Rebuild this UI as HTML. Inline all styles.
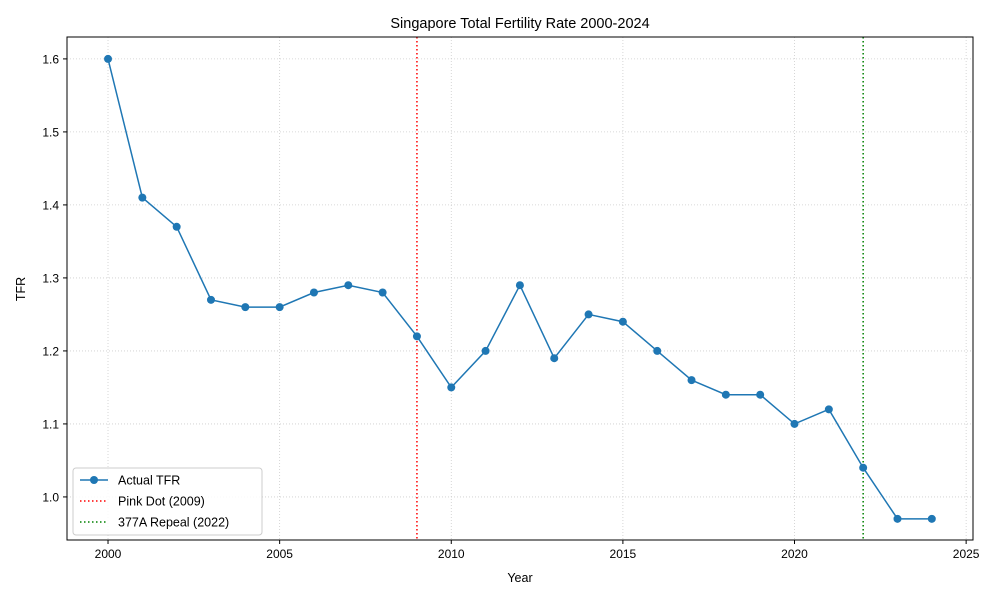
<!DOCTYPE html>
<html><head><meta charset="utf-8"><style>
body{margin:0;background:#fff;font-family:"Liberation Sans","DejaVu Sans",sans-serif;}
</style></head><body>
<svg id="chart" width="1000" height="600" xmlns="http://www.w3.org/2000/svg">
<rect width="1000" height="600" fill="#fff"/>
<g id="grid"></g>
<g id="axes"></g>
<g id="marks"></g>
<rect x="67" y="37" width="906" height="503" fill="none" stroke="#000" stroke-width="1"/>
<text x="520" y="28" text-anchor="middle" font-size="14.5">Singapore Total Fertility Rate 2000-2024</text>
<text x="520" y="582" text-anchor="middle" font-size="12.5">Year</text>
<text x="25" y="289" text-anchor="middle" font-size="12.5" transform="rotate(-90 25 289)">TFR</text>
<g>
<rect x="73" y="468" width="189" height="67" rx="3" fill="#fff" fill-opacity="0.85" stroke="#ccc"/>
<g><line x1="80" y1="480" x2="108" y2="480" stroke="#1f77b4" stroke-width="1.5"/><circle cx="94" cy="480" r="4" fill="#1f77b4"/><text x="118" y="484.5" font-size="12.5">Actual TFR</text></g>
<g><line x1="80" y1="501" x2="108" y2="501" stroke="red" stroke-width="1.5" stroke-dasharray="1.5,2.5"/><text x="118" y="505.5" font-size="12.5">Pink Dot (2009)</text></g>
<g><line x1="80" y1="522" x2="108" y2="522" stroke="green" stroke-width="1.5" stroke-dasharray="1.5,2.5"/><text x="118" y="526.5" font-size="12.5">377A Repeal (2022)</text></g>
</g>
</svg>
<script>
const years=[2000,2001,2002,2003,2004,2005,2006,2007,2008,2009,2010,2011,2012,2013,2014,2015,2016,2017,2018,2019,2020,2021,2022,2023,2024];
const tfr=[1.60,1.41,1.37,1.27,1.26,1.26,1.28,1.29,1.28,1.22,1.15,1.20,1.29,1.19,1.25,1.24,1.20,1.16,1.14,1.14,1.10,1.12,1.04,0.97,0.97];
const xTicks=[2000,2005,2010,2015,2020,2025];
const yTicks=[1.0,1.1,1.2,1.3,1.4,1.5,1.6];
const events=[2009,2022];
const eventColors=['red','green'];
const NS='http://www.w3.org/2000/svg';
const L=67,R=973,T=37,B=540;
const X0=1998.805,X1=2025.2,Y0=0.941,Y1=1.630;
const sx=v=>L+(v-X0)/(X1-X0)*(R-L);
const sy=v=>B-(v-Y0)/(Y1-Y0)*(B-T);
function mk(tag,attrs,parent){const e=document.createElementNS(NS,tag);for(const k in attrs)e.setAttribute(k,attrs[k]);parent.appendChild(e);return e;}
const grid=document.getElementById('grid'),axes=document.getElementById('axes'),marks=document.getElementById('marks');
xTicks.forEach(t=>{const x=sx(t);
 const g=mk('line',{x1:x,x2:x,y1:T,y2:B,stroke:'#ccc','stroke-width':0.8,'stroke-dasharray':'1,2'},grid);
 
 
 mk('line',{x1:x,x2:x,y1:B,y2:B+4,stroke:'#000'},axes);
 const tx=mk('text',{x:x,y:B+18,'text-anchor':'middle','font-size':12},axes);tx.textContent=t;
 
 });
yTicks.forEach(t=>{const y=sy(t);
 const g=mk('line',{x1:L,x2:R,y1:y,y2:y,stroke:'#ccc','stroke-width':0.8,'stroke-dasharray':'1,2'},grid);
 
 
 mk('line',{x1:L-4,x2:L,y1:y,y2:y,stroke:'#000'},axes);
 const tx=mk('text',{x:L-8,y:y+4.5,'text-anchor':'end','font-size':12},axes);tx.textContent=t.toFixed(1);
 
 });
events.forEach((e,i)=>{const x=sx(e);
 const l=mk('line',{x1:x,x2:x,y1:T,y2:B,stroke:eventColors[i],'stroke-width':1.5,'stroke-dasharray':'1.5,2.5'},marks);
 
 });
const pl=mk('polyline',{points:years.map((y,i)=>sx(y)+','+sy(tfr[i])).join(' '),fill:'none',stroke:'#1f77b4','stroke-width':1.5},marks);


years.forEach((y,i)=>{const c=mk('circle',{cx:sx(y),cy:sy(tfr[i]),r:4,fill:'#1f77b4'},marks);
 
 });
</script>
</body></html>
